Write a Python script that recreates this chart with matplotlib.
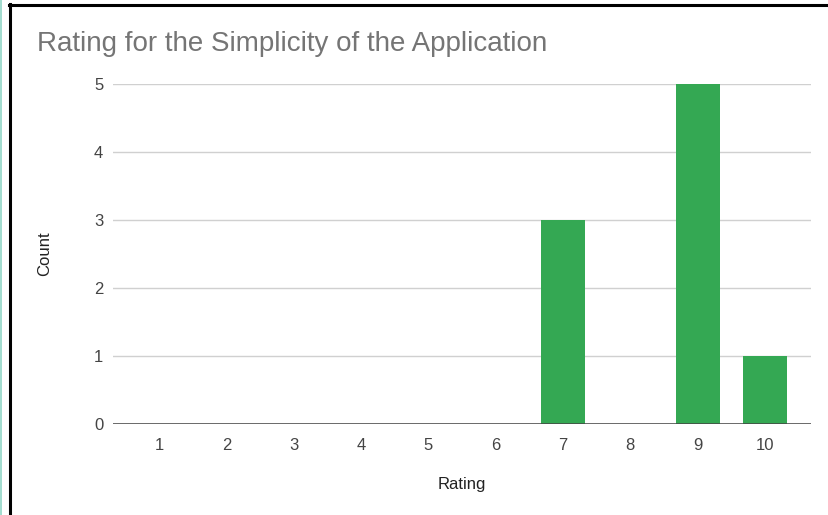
import matplotlib.pyplot as plt
from matplotlib.lines import Line2D
from matplotlib.patches import Rectangle

plt.rcParams['font.family'] = ['Liberation Sans', 'DejaVu Sans']

ratings = [1, 2, 3, 4, 5, 6, 7, 8, 9, 10]
counts = [0, 0, 0, 0, 0, 0, 3, 0, 5, 1]
yticks = [0, 1, 2, 3, 4, 5]

W, H = 829, 515
fig = plt.figure(figsize=(W / 100, H / 100), dpi=100)
ax = fig.add_axes([113 / W, 1 - 424 / H, (811.5 - 113) / W, (424 - 84) / H])

ax.bar(ratings, counts, width=0.654, color='#34a853', zorder=3)

ax.set_xlim(0.317, 10.69)
ax.set_ylim(0, 5)
ax.set_xticks(ratings)
ax.set_xticklabels([str(r) for r in ratings])
ax.set_yticks(yticks)
ax.grid(axis='y', color='#d0d0d0', linewidth=1, zorder=0)
ax.axhline(0, color='#444444', linewidth=1.1, zorder=4)
for s in ax.spines.values():
    s.set_visible(False)
ax.tick_params(length=0, labelsize=12, colors='#444444', pad=7)
ax.tick_params(axis='x', pad=10)

ax.set_xlabel('Rating', fontsize=12, color='#222222', labelpad=17)
ax.set_ylabel('Count', fontsize=12, color='#222222', labelpad=30)

fig.text(37 / W, 1 - 44 / H, 'Rating for the Simplicity of the Application',
         fontsize=20, color='#757575', ha='left', va='center')

# frame around the screenshot
fig.add_artist(Rectangle((0, 0), 2.5 / W, 1, transform=fig.transFigure,
                         color='#a3dccf', lw=0))
fig.add_artist(Line2D([10 / W, 10 / W], [0, 1 - 4 / H], transform=fig.transFigure,
                      color='black', linewidth=2.2))
fig.add_artist(Line2D([9 / W, 1], [1 - 5 / H, 1 - 5 / H], transform=fig.transFigure,
                      color='black', linewidth=2.2))

fig.savefig('out.png', dpi=100)
